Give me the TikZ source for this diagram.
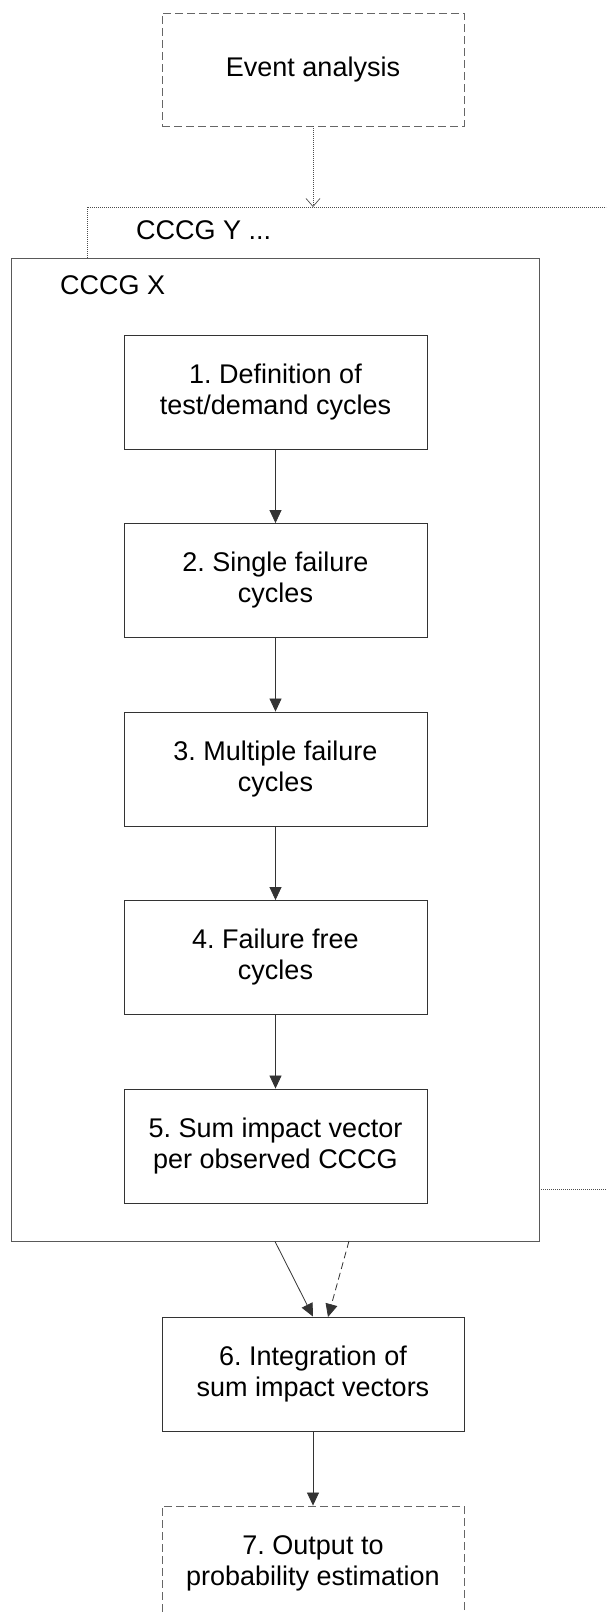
\documentclass[tikz,border=0pt]{standalone}
\usepackage{fontspec}
\setmainfont{Liberation Sans}
\usetikzlibrary{arrows.meta}
\frenchspacing
\begin{document}
\begin{tikzpicture}[x=1pt,y=-1pt,
  txt/.style={font=\fontsize{27}{31}\selectfont},
  stepbox/.style={txt, draw=black!80, line width=0.9pt, minimum width=303pt, minimum height=114pt, inner sep=0pt, align=center},
  dashbox/.style={stepbox, draw=black!60, dash pattern=on 8pt off 4pt},
  flow/.style={draw=black!80, line width=0.8pt, -{Triangle[length=13pt,width=12pt]}},
  dotline/.style={draw=black!70, line width=0.7pt, dash pattern=on 1pt off 1pt},
  lbl/.style={txt, anchor=west, inner sep=0pt}
]
\useasboundingbox (0,0) rectangle (606,1614);
\begin{scope}
\clip (0,0) rectangle (606,1614);
% outer dotted group (CCCG Y ...)
\node[dotline, minimum width=563pt, minimum height=982pt, inner sep=0pt] (cccgy) at (368.5,698) {};
\node[lbl] (ly) at (136,230) {CCCG Y ...};
% CCCG X group
\node[draw=black!65, line width=0.9pt, fill=white, minimum width=528pt, minimum height=983pt, inner sep=0pt] (cccgx) at (275,749.5) {};
\node[lbl] (lx) at (60,285) {CCCG X};
% event analysis
\node[dashbox, minimum width=302pt, minimum height=113pt] (event) at (313,69.5) {Event analysis};
\coordinate (yin) at (313,207);
\draw[dotline, -{Straight Barb[length=8pt,width=14pt]}] (event.south) -- (yin);
% steps
\node[stepbox] (b1) at (275.5,392) {1. Definition of\\test/demand cycles};
\node[stepbox] (b2) at (275.5,580.5) {2. Single failure\\cycles};
\node[stepbox] (b3) at (275.5,769) {3. Multiple failure\\cycles};
\node[stepbox] (b4) at (275.5,957.5) {4. Failure free\\cycles};
\node[stepbox] (b5) at (275.5,1146) {5. Sum impact vector\\per observed CCCG};
\node[stepbox, minimum width=302pt] (b6) at (313,1374) {6. Integration of\\sum impact vectors};
\node[dashbox, minimum width=302pt] (b7) at (313,1563) {7. Output to\\probability estimation};
\draw[flow] (b1.south) -- (b2.north);
\draw[flow] (b2.south) -- (b3.north);
\draw[flow] (b3.south) -- (b4.north);
\draw[flow] (b4.south) -- (b5.north);
\coordinate (dstart) at (349,1241);
\coordinate (dend) at (328,1317);
\draw[flow] (cccgx.south) -- (b6.north);
\draw[flow, dash pattern=on 7pt off 4pt] (dstart) -- (dend);
\draw[flow] (b6.south) -- (b7.north);
\end{scope}
\end{tikzpicture}
\end{document}
